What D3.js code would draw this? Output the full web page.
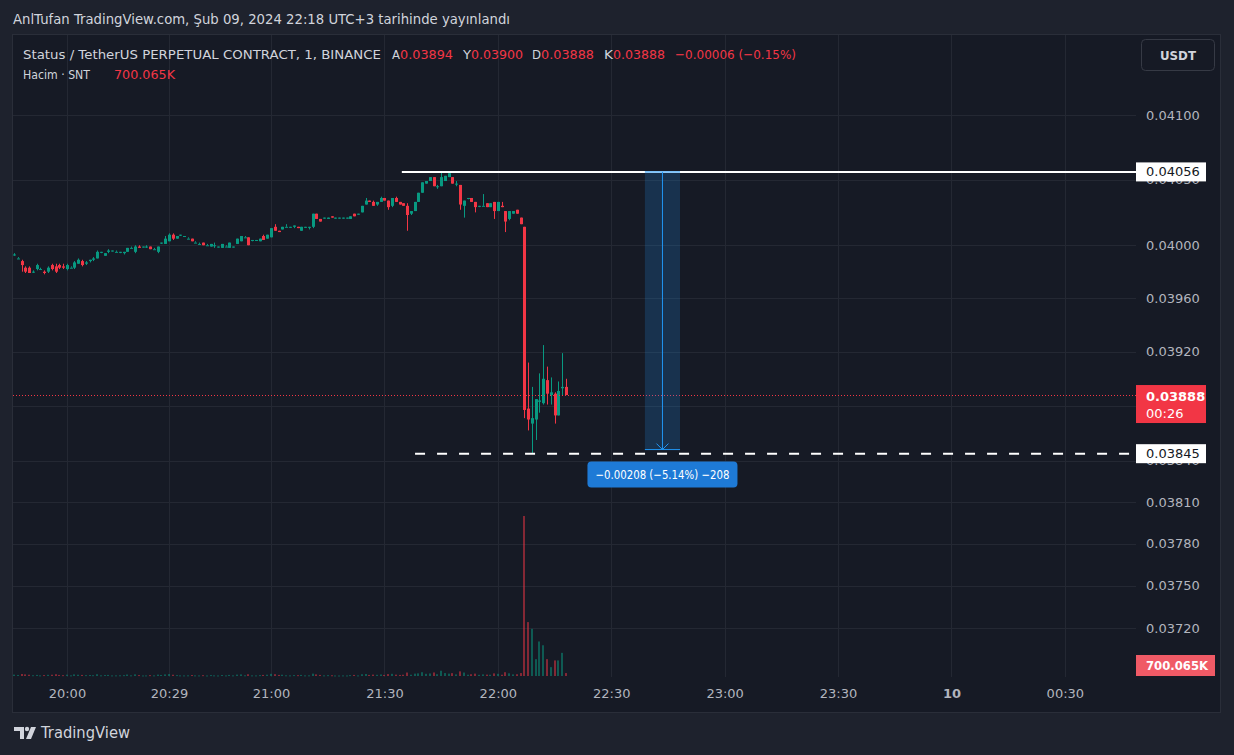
<!DOCTYPE html>
<html><head><meta charset="utf-8">
<script src="https://cdn.jsdelivr.net/npm/d3@7"></script>
<style>html,body{margin:0;padding:0;background:#1e222d;}svg{display:block}</style>
</head><body>
<svg id="c" width="1234" height="755"></svg>
<script>
// ---------- DATA ----------
const opens = [0.03993,0.03990,0.03988,0.03983,0.03983,0.03980,0.03982,0.03982,0.03980,0.03980,0.03985,0.03984,0.03985,0.03984,0.03982,0.03983,0.03983,0.03986,0.03988,0.03986,0.03988,0.03989,0.03990,0.03995,0.03992,0.03995,0.03996,0.03995,0.03995,0.03994,0.03995,0.03998,0.03995,0.03999,0.03999,0.03999,0.03999,0.03997,0.03995,
0.04002,0.04001,0.04003,0.04008,0.04005,0.04008,0.04007,0.04005,0.04005,0.04002,0.04001,0.04002,0.04000,0.03999,0.04000,0.03999,0.03998,0.03999,0.03998,0.03999,0.04001,0.04003,0.04006,0.04006,0.04004,0.04004,0.04003,0.04007,0.04005,0.04006,0.04014,0.04011,0.04012,0.04014,0.04014,
0.04014,0.04014,0.04011,0.04014,0.04014,0.04014,0.04024,0.04020,0.04021,0.04020,0.04022,0.04021,0.04021,0.04021,0.04021,0.04020,0.04024,0.04024,0.04025,0.04031,0.04034,0.04033,0.04031,0.04033,0.04036,0.04034,0.04030,0.04036,0.04033,0.04032,0.04030,0.04024,0.04026,0.04033,
0.04040,0.04047,0.04049,0.04052,0.04045,0.04045,0.04049,0.04052,0.04052,0.04047,0.04046,0.04030,0.04036,0.04036,0.04033,0.04030,0.04030,0.04032,0.04029,0.04033,0.04026,0.04030,0.04026,0.04020,0.04024,0.04027,0.04021,
0.04014,0.03878,0.03867,0.03870,0.03883,0.03882,0.03899,0.03888,0.03889,0.03873,0.03893,0.03894];
const highs = [0.03994,0.03991,0.03989,0.03984,0.03984,0.03981,0.03986,0.03983,0.03981,0.03984,0.03986,0.03986,0.03986,0.03986,0.03986,0.03984,0.03988,0.03990,0.03989,0.03988,0.03989,0.03991,0.03996,0.03995,0.03994,0.03997,0.03996,0.03996,0.03995,0.03995,0.03998,0.03999,0.04000,0.04000,0.03999,0.04000,0.03999,0.03998,0.03999,
0.04002,0.04007,0.04009,0.04009,0.04007,0.04008,0.04007,0.04006,0.04005,0.04003,0.04002,0.04002,0.04001,0.04001,0.04002,0.03999,0.04001,0.04000,0.04002,0.03999,0.04005,0.04007,0.04007,0.04006,0.04004,0.04004,0.04005,0.04008,0.04008,0.04013,0.04016,0.04011,0.04014,0.04016,0.04014,
0.04015,0.04014,0.04014,0.04014,0.04014,0.04024,0.04024,0.04020,0.04021,0.04021,0.04022,0.04021,0.04021,0.04021,0.04021,0.04022,0.04024,0.04024,0.04030,0.04036,0.04034,0.04034,0.04033,0.04037,0.04036,0.04034,0.04036,0.04037,0.04033,0.04032,0.04032,0.04026,0.04033,0.04040,
0.04048,0.04049,0.04052,0.04052,0.04046,0.04056,0.04053,0.04055,0.04052,0.04049,0.04046,0.04034,0.04036,0.04036,0.04033,0.04030,0.04039,0.04032,0.04032,0.04033,0.04033,0.04033,0.04026,0.04026,0.04026,0.04027,0.04021,
0.04014,0.03912,0.03894,0.03885,0.03904,0.03925,0.03909,0.03901,0.03890,0.03898,0.03919,0.03900];
const lows = [0.03992,0.03990,0.03980,0.03979,0.03979,0.03979,0.03981,0.03982,0.03978,0.03979,0.03981,0.03979,0.03982,0.03982,0.03981,0.03983,0.03982,0.03986,0.03984,0.03985,0.03987,0.03988,0.03990,0.03994,0.03992,0.03994,0.03996,0.03995,0.03994,0.03993,0.03995,0.03998,0.03994,0.03998,0.03999,0.03998,0.03997,0.03997,0.03994,
0.04001,0.04001,0.04003,0.04004,0.04005,0.04007,0.04007,0.04005,0.04003,0.04002,0.04001,0.04000,0.04000,0.03999,0.03998,0.03999,0.03998,0.03999,0.03998,0.03999,0.04001,0.04003,0.04006,0.04000,0.04003,0.04004,0.04003,0.04004,0.04005,0.04006,0.04011,0.04010,0.04012,0.04014,0.04014,
0.04013,0.04013,0.04011,0.04014,0.04012,0.04013,0.04020,0.04018,0.04021,0.04020,0.04021,0.04021,0.04021,0.04021,0.04021,0.04020,0.04022,0.04024,0.04025,0.04031,0.04033,0.04030,0.04030,0.04033,0.04034,0.04027,0.04029,0.04033,0.04031,0.04030,0.04011,0.04023,0.04026,0.04033,
0.04040,0.04047,0.04049,0.04045,0.04043,0.04045,0.04049,0.04052,0.04047,0.04045,0.04027,0.04021,0.04035,0.04033,0.04025,0.04029,0.04030,0.04029,0.04029,0.04020,0.04026,0.04029,0.04010,0.04019,0.04024,0.04024,0.04016,
0.03871,0.03862,0.03845,0.03855,0.03875,0.03881,0.03881,0.03881,0.03867,0.03873,0.03888,0.03888];
const closes = [0.03993,0.03990,0.03985,0.03980,0.03979,0.03980,0.03985,0.03982,0.03979,0.03983,0.03982,0.03980,0.03983,0.03983,0.03985,0.03983,0.03987,0.03989,0.03985,0.03987,0.03989,0.03990,0.03995,0.03995,0.03994,0.03996,0.03996,0.03995,0.03995,0.03995,0.03998,0.03998,0.03999,0.03998,0.03999,0.03999,0.03997,0.03997,0.03999,
0.04002,0.04005,0.04008,0.04005,0.04007,0.04008,0.04007,0.04005,0.04003,0.04002,0.04001,0.04000,0.04000,0.04001,0.04000,0.03999,0.04001,0.03999,0.04002,0.03999,0.04005,0.04007,0.04006,0.04000,0.04004,0.04004,0.04005,0.04004,0.04008,0.04013,0.04011,0.04010,0.04014,0.04014,0.04014,
0.04015,0.04013,0.04014,0.04014,0.04014,0.04024,0.04020,0.04018,0.04021,0.04021,0.04021,0.04021,0.04021,0.04021,0.04021,0.04022,0.04022,0.04024,0.04030,0.04034,0.04033,0.04030,0.04033,0.04036,0.04034,0.04029,0.04036,0.04033,0.04031,0.04030,0.04023,0.04026,0.04033,0.04040,
0.04048,0.04049,0.04052,0.04045,0.04045,0.04052,0.04053,0.04055,0.04047,0.04047,0.04031,0.04034,0.04036,0.04033,0.04029,0.04030,0.04030,0.04029,0.04032,0.04026,0.04033,0.04029,0.04018,0.04026,0.04026,0.04024,0.04016,
0.03877,0.03870,0.03871,0.03885,0.03884,0.03900,0.03889,0.03890,0.03873,0.03891,0.03894,0.03888];
const volumes = [320e3,250e3,480e3,380e3,300e3,180e3,260e3,150e3,220e3,280e3,300e3,420e3,260e3,200e3,310e3,150e3,380e3,300e3,260e3,210e3,240e3,190e3,420e3,160e3,230e3,260e3,140e3,150e3,170e3,200e3,350e3,160e3,390e3,220e3,130e3,140e3,210e3,150e3,330e3,
250e3,380e3,460e3,300e3,220e3,150e3,140e3,160e3,230e3,150e3,140e3,200e3,130e3,220e3,150e3,130e3,240e3,140e3,260e3,150e3,330e3,380e3,170e3,420e3,150e3,140e3,210e3,260e3,300e3,520e3,430e3,260e3,300e3,170e3,150e3,
220e3,200e3,260e3,150e3,160e3,560e3,380e3,260e3,150e3,200e3,180e3,130e3,120e3,140e3,130e3,220e3,260e3,140e3,420e3,480e3,260e3,330e3,280e3,360e3,260e3,460e3,520e3,320e3,260e3,300e3,820e3,300e3,560e3,620e3,
900e3,520e3,600e3,840e3,420e3,1250e3,700e3,560e3,680e3,380e3,1100e3,820e3,300e3,420e3,560e3,280e3,380e3,330e3,300e3,620e3,520e3,300e3,900e3,640e3,380e3,420e3,700e3,
38.0e6,12.8e6,11.2e6,4.0e6,8.2e6,7.3e6,4.0e6,2.1e6,3.7e6,3.7e6,5.5e6,700065];

const timeLabels = ["20:00","20:29","21:00","21:30","22:00","22:30","23:00","23:30","10","00:30"];
const timeTickBars = [14,41,68,98,128,158,188,218,248,278];
const priceGridTicks = [0.041,0.0405,0.040,0.0396,0.0392,0.0388,0.0384,0.0381,0.0378,0.0375,0.0372];
const priceLabelTicks = [0.041,0.0405,0.040,0.0396,0.0392,0.0384,0.0381,0.0378,0.0375,0.0372];

const highLinePrice = 0.04056, highLineStartBar = 102.6;
const lowLinePrice = 0.03845, lowLineStartBar = 106.1;
const measureTop = 0.04056, measureBottom = 0.03848, measureBars = [166.9, 176.2];
const measureText = "\u22120.00208 (\u22125.14%) \u2212208";
const lastClose = 0.03888, countdown = "00:26", lastVolLabel = "700.065K";

// ---------- LAYOUT ----------
const W = 1234, H = 755;
const pane = {l: 13, r: 1136, t: 35, b: 677};
const UP = "#089981", DOWN = "#f23645";
const svg = d3.select("#c");

svg.append("rect").attr("width", W).attr("height", H).attr("fill", "#1e222d");
svg.append("rect").attr("x", 12.5).attr("y", 34.5).attr("width", 1208).attr("height", 678)
  .attr("fill", "#161a25").attr("stroke", "#2a2e39");

const x = d3.scaleLinear().domain([0, 146]).range([14, 565.88]);
const y = d3.scaleLog().domain([0.0372, 0.041]).range([628, 115]);
const yv = d3.scaleLinear().domain([0, d3.max(volumes)]).range([676, 516]);

svg.append("defs").append("clipPath").attr("id", "pc").append("rect")
  .attr("x", pane.l).attr("y", pane.t).attr("width", pane.r - pane.l).attr("height", pane.b - pane.t);

const grid = svg.append("g").attr("stroke", "#242833").attr("stroke-width", 1);
timeTickBars.forEach(b => {
  const xx = Math.round(x(b)) + 0.5;
  grid.append("line").attr("x1", xx).attr("x2", xx).attr("y1", pane.t).attr("y2", pane.b);
});
priceGridTicks.forEach(p => {
  const yy = Math.round(y(p)) + 0.5;
  grid.append("line").attr("x1", pane.l).attr("x2", pane.r).attr("y1", yy).attr("y2", yy);
});

const plot = svg.append("g").attr("clip-path", "url(#pc)");
const idx = d3.range(closes.length);

// volume
plot.append("g").selectAll("rect").data(idx).join("rect")
  .attr("x", i => Math.round(x(i)) - 1)
  .attr("width", 2)
  .attr("y", i => yv(volumes[i]))
  .attr("height", i => Math.max(1, yv(0) - yv(volumes[i])))
  .attr("fill", i => closes[i] >= opens[i] ? "rgba(8,153,129,0.5)" : "rgba(242,54,69,0.5)");

// candles
const cg = plot.append("g");
cg.selectAll("rect.w").data(idx).join("rect").attr("class", "w")
  .attr("x", i => Math.round(x(i)))
  .attr("width", 1)
  .attr("y", i => y(highs[i]))
  .attr("height", i => Math.max(1, y(lows[i]) - y(highs[i])))
  .attr("fill", i => closes[i] >= opens[i] ? UP : DOWN);
cg.selectAll("rect.b").data(idx).join("rect").attr("class", "b")
  .attr("x", i => Math.round(x(i)) - 1)
  .attr("width", 3)
  .attr("y", i => y(Math.max(opens[i], closes[i])))
  .attr("height", i => Math.max(1, Math.abs(y(opens[i]) - y(closes[i]))))
  .attr("fill", i => closes[i] >= opens[i] ? UP : DOWN);

// last price dotted line
plot.append("line").attr("x1", pane.l).attr("x2", pane.r)
  .attr("y1", Math.round(y(lastClose)) + 0.5).attr("y2", Math.round(y(lastClose)) + 0.5)
  .attr("stroke", DOWN).attr("stroke-dasharray", "1 2");

// horizontal drawings
plot.append("line").attr("x1", x(highLineStartBar)).attr("x2", pane.r)
  .attr("y1", y(highLinePrice)).attr("y2", y(highLinePrice))
  .attr("stroke", "#ffffff").attr("stroke-width", 2);
plot.append("line").attr("x1", x(lowLineStartBar)).attr("x2", pane.r)
  .attr("y1", y(lowLinePrice)).attr("y2", y(lowLinePrice))
  .attr("stroke", "#ffffff").attr("stroke-width", 2).attr("stroke-dasharray", "10 12");

// measurement
const mx0 = x(measureBars[0]), mx1 = x(measureBars[1]), mxc = (mx0 + mx1) / 2;
const my0 = y(measureTop), my1 = y(measureBottom);
plot.append("rect").attr("x", mx0).attr("y", my0).attr("width", mx1 - mx0).attr("height", my1 - my0)
  .attr("fill", "rgba(33,150,243,0.2)");
[my0, my1].forEach(v => plot.append("line").attr("x1", mx0).attr("x2", mx1).attr("y1", v).attr("y2", v)
  .attr("stroke", "#2196f3").attr("stroke-width", 1));
plot.append("line").attr("x1", mxc).attr("x2", mxc).attr("y1", my0).attr("y2", my1)
  .attr("stroke", "#2196f3").attr("stroke-width", 1);
plot.append("path").attr("d", `M${mxc - 6},${my1 - 6}L${mxc},${my1}L${mxc + 6},${my1 - 6}`)
  .attr("fill", "none").attr("stroke", "#2196f3").attr("stroke-width", 1);
plot.append("rect").attr("x", mxc - 75).attr("y", my1 + 12).attr("width", 150).attr("height", 26).attr("rx", 4)
  .attr("fill", "#1e7ad6");
plot.append("text").attr("x", mxc).attr("y", my1 + 25).attr("dy", "0.35em").attr("text-anchor", "middle")
  .attr("fill", "#ffffff").attr("font-family", "DejaVu Sans, sans-serif").attr("font-size", 12.5)
  .attr("textLength", 134).attr("lengthAdjust", "spacingAndGlyphs").text(measureText);

// price axis
const ya = svg.append("g").attr("transform", `translate(${pane.r},0)`)
  .call(d3.axisRight(y).tickValues(priceLabelTicks).tickFormat(d3.format(".5f")).tickSize(0).tickPadding(10));
ya.select(".domain").remove();
ya.selectAll("text").attr("fill", "#b2b5be").attr("font-family", "DejaVu Sans, sans-serif").attr("font-size", 13);

// time axis
const xa = svg.append("g").attr("transform", `translate(0,${pane.b})`)
  .call(d3.axisBottom(x).tickValues(timeTickBars).tickFormat((d, i) => timeLabels[i]).tickSize(0).tickPadding(12));
xa.select(".domain").remove();
xa.selectAll("text").attr("fill", "#b2b5be").attr("font-family", "DejaVu Sans, sans-serif").attr("font-size", 13)
  .attr("font-weight", (d, i) => timeLabels[i] === "10" ? "bold" : "normal");

// axis labels (boxes)
function axisBox(price, txt, fill, color, h) {
  const yy = y(price);
  svg.append("rect").attr("x", pane.r).attr("y", yy - h / 2).attr("width", 70).attr("height", h).attr("fill", fill);
  svg.append("text").attr("x", 1146).attr("y", yy).attr("dy", "0.35em").attr("fill", color)
    .attr("font-family", "DejaVu Sans, sans-serif").attr("font-size", 13).text(txt);
}
axisBox(highLinePrice, d3.format(".5f")(highLinePrice), "#ffffff", "#131722", 19);
axisBox(lowLinePrice, d3.format(".5f")(lowLinePrice), "#ffffff", "#131722", 19);
const ly = y(lastClose);
svg.append("rect").attr("x", pane.r).attr("y", ly - 10).attr("width", 70).attr("height", 38).attr("fill", DOWN);
svg.append("text").attr("x", 1146).attr("y", ly + 1).attr("dy", "0.35em").attr("fill", "#ffffff")
  .attr("font-family", "DejaVu Sans, sans-serif").attr("font-size", 13).attr("font-weight", 600).text(d3.format(".5f")(lastClose));
svg.append("text").attr("x", 1146).attr("y", ly + 18).attr("dy", "0.35em").attr("fill", "#ffffff")
  .attr("font-family", "DejaVu Sans, sans-serif").attr("font-size", 13).text(countdown);
svg.append("rect").attr("x", pane.r).attr("y", 655).attr("width", 79).attr("height", 21).attr("fill", "#f05a66");
svg.append("text").attr("x", 1146).attr("y", 665.5).attr("dy", "0.35em").attr("fill", "#ffffff")
  .attr("font-family", "DejaVu Sans, sans-serif").attr("font-size", 13).attr("font-weight", 600)
  .attr("textLength", 62).attr("lengthAdjust", "spacingAndGlyphs").text(lastVolLabel);

// USDT box
svg.append("rect").attr("x", 1141.5).attr("y", 39.5).attr("width", 73).attr("height", 31).attr("rx", 4)
  .attr("fill", "#161a25").attr("stroke", "#363a45");
svg.append("text").attr("x", 1178).attr("y", 55).attr("dy", "0.35em").attr("text-anchor", "middle")
  .attr("fill", "#d1d4dc").attr("font-family", "DejaVu Sans, sans-serif").attr("font-size", 13).attr("font-weight", 600)
  .attr("textLength", 36).attr("lengthAdjust", "spacingAndGlyphs").text("USDT");

// header and legend
function txt(xp, yp, s, color, size, len, weight) {
  const t = svg.append("text").attr("x", xp).attr("y", yp).attr("dy", "0.35em").attr("fill", color)
    .attr("font-family", "DejaVu Sans, sans-serif").attr("font-size", size).text(s);
  if (len) t.attr("textLength", len).attr("lengthAdjust", "spacingAndGlyphs");
  if (weight) t.attr("font-weight", weight);
  return t;
}
txt(13, 19, "AnlTufan TradingView.com, \u015eub 09, 2024 22:18 UTC+3 tarihinde yay\u0131nland\u0131", "#d1d4dc", 14, 497);
const LG = "#d1d4dc";
txt(23, 54, "Status / TetherUS PERPETUAL CONTRACT, 1, BINANCE", LG, 13, 358);
txt(392, 54, "A", LG, 13, 8);
txt(400, 54, "0.03894", DOWN, 13, 53);
txt(463, 54, "Y", LG, 13, 8);
txt(471, 54, "0.03900", DOWN, 13, 52);
txt(532, 54, "D", LG, 13, 9);
txt(541, 54, "0.03888", DOWN, 13, 53);
txt(604, 54, "K", LG, 13, 9);
txt(613, 54, "0.03888", DOWN, 13, 52);
txt(675, 54, "\u22120.00006 (\u22120.15%)", DOWN, 13, 121);
txt(23, 74, "Hacim \u00b7 SNT", LG, 13, 67);
txt(114, 74, lastVolLabel, DOWN, 13, 61);

// TradingView logo
const logo = svg.append("g").attr("fill", "#d1d4dc");
logo.append("path").attr("d", "M14,727h10v12h-4v-8h-6z");
logo.append("circle").attr("cx", 27).attr("cy", 729).attr("r", 2.2);
logo.append("path").attr("d", "M31,727h5l-5,12h-5z");
txt(41, 733, "TradingView", "#d1d4dc", 15, 89);
</script>
</body></html>
